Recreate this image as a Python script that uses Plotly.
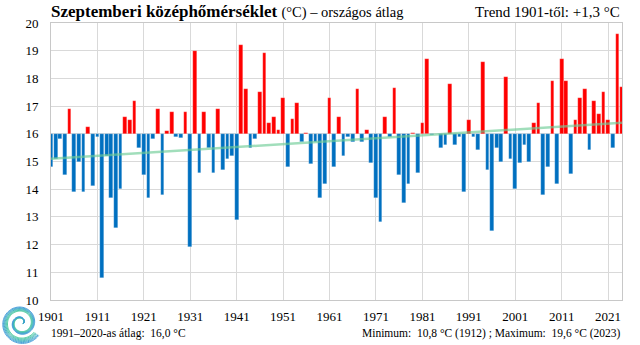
import numpy as np
import plotly.graph_objects as go

# ---------------- data ----------------
years = list(range(1901, 2025))
temps = [
    14.8, 15.1, 15.8, 14.5, 16.9, 13.9, 15.0, 13.9, 16.25, 14.1,   # 1901-1910
    15.9, 10.8, 15.2, 13.7, 12.6, 14.0, 16.6, 16.5, 17.2, 15.5,    # 1911-1920
    14.5, 13.7, 15.8, 16.9, 13.8, 16.1, 16.8, 15.9, 15.85, 16.8,   # 1921-1930
    11.9, 19.0, 14.6, 16.8, 15.5, 14.6, 16.9, 14.7, 15.1, 15.2,    # 1931-1940
    12.9, 19.2, 17.6, 15.5, 15.8, 17.5, 18.9, 16.4, 16.6, 16.15,   # 1941-1950
    17.3, 14.8, 16.55, 17.1, 15.7, 16.03, 14.9, 15.7, 13.7, 14.2,  # 1951-1960
    17.3, 14.8, 16.6, 15.2, 15.9, 15.7, 17.6, 15.7, 16.15, 14.95,  # 1961-1970
    13.7, 12.8, 16.6, 15.9, 17.65, 14.5, 13.5, 14.2, 16.02, 14.6,  # 1971-1980
    16.4, 18.7, 15.95, 15.98, 15.5, 15.6, 17.8, 15.6, 15.9, 13.9,  # 1981-1990
    16.5, 15.9, 15.4, 18.6, 14.7, 12.5, 15.5, 15.0, 18.05, 15.1,   # 1991-2000
    14.0, 14.95, 15.6, 15.0, 16.4, 17.1, 13.8, 14.8, 17.9, 14.2,   # 2001-2010
    18.7, 17.9, 14.55, 16.5, 17.3, 17.6, 15.4, 17.2, 16.7, 17.5,   # 2011-2020
    16.5, 15.5, 19.6, 17.7,                                        # 2021-2024
]
baseline = 16.0
trend_years = [1901, 2024]
trend_vals = [15.1, 16.4]
x_tick_years = list(range(1901, 2025, 10))
x_tick_labels = [str(y) for y in x_tick_years]
y_ticks = list(range(10, 21))

title_main = "Szeptemberi középhőmérséklet"
title_sub = "(°C) – országos átlag"
trend_text = "Trend 1901-től: +1,3 °C"
norm_text = "1991–2020-as átlag:  16,0 °C"
minmax_text = "Minimum:  10,8 °C (1912) ; Maximum:  19,6 °C (2023)"

# ---------------- layout constants ----------------
W, H = 640, 345
ML, MR, MT, MB = 51, 18, 23, 45
PW, PH = W - ML - MR, H - MT - MB
FONT = "Liberation Serif"
RED, BLUE = "#FF0000", "#0070C0"
GRID = "#D9D9D9"


def px2paper(px, py):
    return (px - ML) / PW, (H - MB - py) / PH


colors = [RED if t >= baseline else BLUE for t in temps]

fig = go.Figure()
fig.add_trace(go.Bar(
    x=years,
    y=[t - baseline for t in temps],
    base=baseline,
    width=0.8,
    marker=dict(color=colors, line=dict(color="rgba(255,255,255,0.45)", width=0.5)),
    hoverinfo="skip",
    showlegend=False,
))
fig.add_trace(go.Scatter(
    x=trend_years, y=trend_vals, mode="lines",
    line=dict(color="rgba(110,205,150,0.65)", width=2.5),
    hoverinfo="skip", showlegend=False,
))

fig.update_layout(
    width=W, height=H,
    margin=dict(l=ML, r=MR, t=MT, b=MB),
    paper_bgcolor="white", plot_bgcolor="white",
    bargap=0,
    font=dict(family=FONT, size=13, color="black"),
    xaxis=dict(
        range=[1901, 2024],
        tickmode="array", tickvals=x_tick_years, ticktext=x_tick_labels,
        showgrid=True, gridcolor=GRID, gridwidth=1,
        showline=True, linecolor="#C8C8C8", linewidth=1, mirror=True,
        ticks="outside", ticklen=4, tickcolor="rgba(0,0,0,0)",
        tickfont=dict(family=FONT, size=13, color="black"),
        zeroline=False,
    ),
    yaxis=dict(
        range=[10, 20],
        tickmode="array", tickvals=y_ticks,
        showgrid=True, gridcolor=GRID, gridwidth=1,
        showline=True, linecolor="#C8C8C8", linewidth=1, mirror=True,
        ticks="outside", ticklen=9, tickcolor="rgba(0,0,0,0)",
        tickfont=dict(family=FONT, size=13, color="black"),
        zeroline=False,
    ),
)

anns = []
x0, y0 = px2paper(49, 11)
anns.append(dict(
    x=x0, y=y0, xref="paper", yref="paper", xanchor="left", yanchor="middle",
    text=f"<b>{title_main}</b> <span style='font-size:14.5px'>{title_sub}</span>",
    showarrow=False, font=dict(family=FONT, size=17, color="black"),
))
x1, y1 = px2paper(622, 12.5)
anns.append(dict(
    x=x1, y=y1, xref="paper", yref="paper", xanchor="right", yanchor="middle",
    text=trend_text, showarrow=False, font=dict(family=FONT, size=15, color="black"),
))
x2, y2 = px2paper(49, 333)
anns.append(dict(
    x=x2, y=y2, xref="paper", yref="paper", xanchor="left", yanchor="middle",
    text=norm_text, showarrow=False, font=dict(family=FONT, size=11.5, color="black"),
))
x3, y3 = px2paper(623, 333)
anns.append(dict(
    x=x3, y=y3, xref="paper", yref="paper", xanchor="right", yanchor="middle",
    text=minmax_text, showarrow=False, font=dict(family=FONT, size=11.5, color="black"),
))
fig.update_layout(annotations=anns)

# ---------------- decorative logo (spiral) ----------------
shapes = []
cx, cy = 21.0, 323.0
logo_cols = ["#45C898", "#41C2A1", "#3DBAAC", "#3BB1B8", "#3AA8C4", "#3BA0CF", "#3F99D8"]
s = np.linspace(0, 1, 140)
theta = np.deg2rad(325 - 700 * (1 - s))
for k, col in enumerate(logo_cols):
    r = 2.0 + (14.0 + k * 0.95) * s ** 0.85
    pxs = cx + r * np.cos(theta)
    pys = cy - r * np.sin(theta)
    pts = [px2paper(a, b) for a, b in zip(pxs, pys)]
    path = "M " + " L ".join(f"{a:.5f},{b:.5f}" for a, b in pts)
    shapes.append(dict(type="path", path=path, xref="paper", yref="paper",
                       line=dict(color=col, width=0.9), layer="above"))
fig.update_layout(shapes=shapes)

fig.write_html("out.html")
